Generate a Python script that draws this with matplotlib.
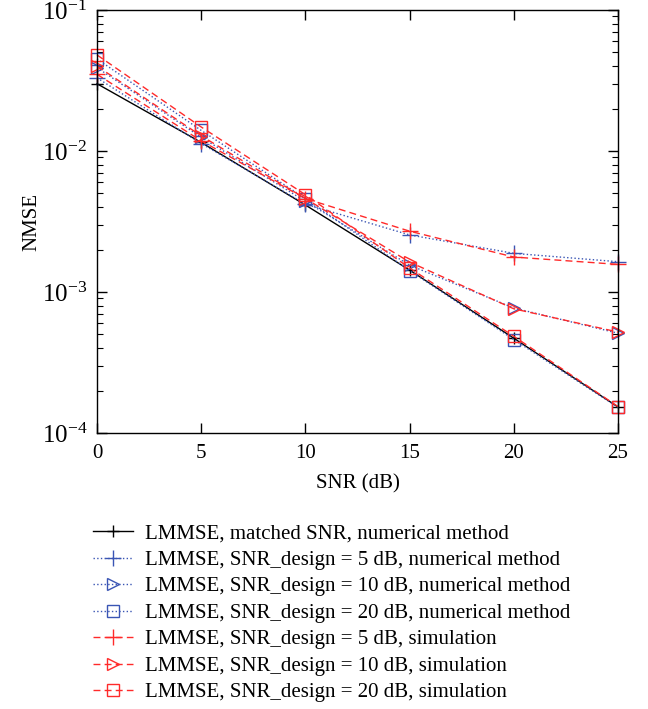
import matplotlib
matplotlib.use("Agg")
import matplotlib.pyplot as plt
from matplotlib.ticker import LogLocator, NullFormatter

plt.rcParams['font.family'] = ['Liberation Serif', 'DejaVu Serif']
plt.rcParams['mathtext.fontset'] = 'stix'

snr = [0, 5, 10, 15, 20, 25]
matched = [0.0300, 0.0115, 0.00414, 0.00143, 0.00047, 0.000153]
num5 = [0.0330, 0.0113, 0.00420, 0.00254, 0.00188, 0.00164]
num10 = [0.0390, 0.0125, 0.00440, 0.00155, 0.00077, 0.00051]
num20 = [0.0450, 0.0140, 0.00460, 0.00142, 0.00046, 0.000152]
sim5 = [0.0350, 0.0118, 0.00460, 0.00270, 0.00177, 0.00157]
sim10 = [0.0400, 0.0128, 0.00460, 0.00163, 0.00076, 0.00052]
sim20 = [0.0480, 0.0148, 0.00490, 0.00148, 0.000485, 0.000154]

labels = [
    "LMMSE, matched SNR, numerical method",
    "LMMSE, SNR_design = 5 dB, numerical method",
    "LMMSE, SNR_design = 10 dB, numerical method",
    "LMMSE, SNR_design = 20 dB, numerical method",
    "LMMSE, SNR_design = 5 dB, simulation",
    "LMMSE, SNR_design = 10 dB, simulation",
    "LMMSE, SNR_design = 20 dB, simulation",
]

blue = '#3a55b4'
red = '#ff2a2a'

fig = plt.figure(figsize=(6.48, 7.09), dpi=100)
ax = fig.add_axes([97/648, 1-433/709, (618-97)/648, (433-10)/709])

ms = 9
kw = dict(lw=1.0, mew=1.0, clip_on=False)
ax.plot(snr, matched, color='black', ls='-', marker='+', ms=ms, label=labels[0], **kw)
ax.plot(snr, num5, color=blue, ls=':', marker='+', ms=ms + 2, label=labels[1], **kw)
ax.plot(snr, num10, color=blue, ls=':', marker='>', ms=ms, mfc='none', label=labels[2], **kw)
ax.plot(snr, num20, color=blue, ls=':', marker='s', ms=ms - 1, mfc='none', label=labels[3], **kw)
ax.plot(snr, sim5, color=red, ls=(0, (5, 3)), marker='+', ms=ms + 2, label=labels[4], **kw)
ax.plot(snr, sim10, color=red, ls=(0, (5, 3)), marker='>', ms=ms, mfc='none', label=labels[5], **kw)
ax.plot(snr, sim20, color=red, ls=(0, (5, 3)), marker='s', ms=ms - 1, mfc='none', label=labels[6], **kw)

ax.set_yscale('log')
ax.set_xlim(0, 25)
ax.set_ylim(1e-4, 1e-1)
ax.set_xticks([0, 5, 10, 15, 20, 25])
ax.yaxis.set_major_locator(LogLocator(base=10, numticks=10))
ax.yaxis.set_minor_locator(LogLocator(base=10, subs=range(2, 10), numticks=10))
ax.yaxis.set_minor_formatter(NullFormatter())
ax.tick_params(which='both', direction='in', top=True, right=True)
ax.tick_params(axis='x', labelsize=15, pad=8)
ax.tick_params(axis='y', labelsize=18, pad=7)
ax.tick_params(which='major', length=7, width=1.0)
ax.tick_params(which='minor', length=4, width=0.8)
for s in ax.spines.values():
    s.set_linewidth(1.0)

ax.set_xlabel('SNR (dB)', fontsize=15, labelpad=8)
ax.set_ylabel('NMSE', fontsize=15, labelpad=0)

handles, labs = ax.get_legend_handles_labels()
fig.legend(handles, labs, loc='upper left', bbox_to_anchor=(93/648, 1-524/709),
           frameon=False, fontsize=15, numpoints=1, handlelength=1.9,
           handletextpad=0.6, labelspacing=0.33, borderpad=0, borderaxespad=0)

fig.savefig('out.png', dpi=100)
